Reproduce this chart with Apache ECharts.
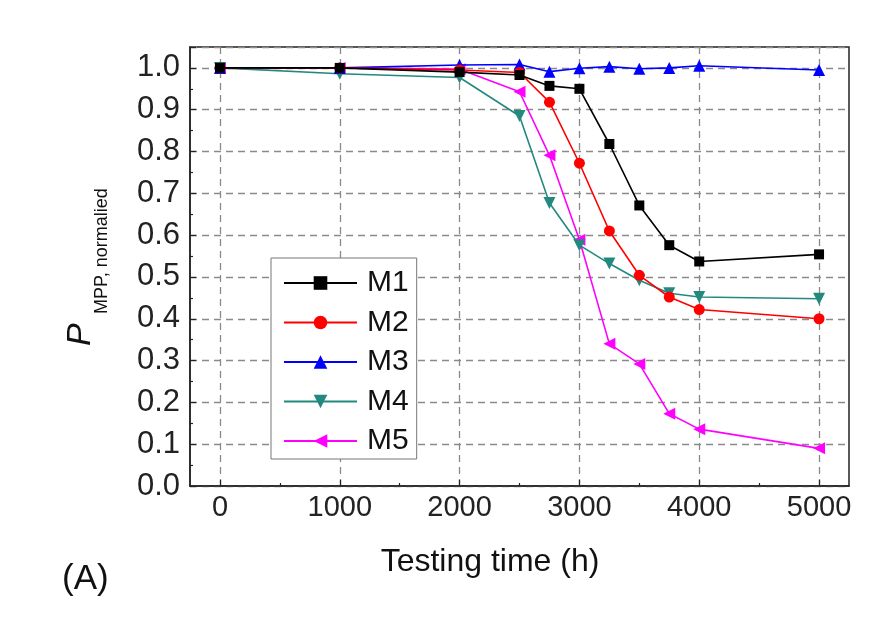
<!DOCTYPE html>
<html>
<head>
<meta charset="utf-8">
<script src="https://cdn.jsdelivr.net/npm/echarts@6/dist/echarts.min.js"></script>
<style>
html,body{margin:0;padding:0;background:#fff;}
#chart{width:870px;height:621px;}
</style>
</head>
<body>
<div id="chart"></div>
<script>
// ---- data ----
const testingTime = [0, 1000, 2000, 2500, 2750, 3000, 3250, 3500, 3750, 4000, 5000];
const seriesNames = ['M1', 'M2', 'M3', 'M4', 'M5'];
const m1 = [1.0, 1.0, 0.99, 0.983, 0.957, 0.950, 0.818, 0.671, 0.576, 0.537, 0.554];
const m2 = [1.0, 1.0, 0.995, 0.989, 0.918, 0.772, 0.610, 0.504, 0.452, 0.422, 0.400];
const m3 = [1.0, 1.0, 1.007, 1.008, 0.991, 0.999, 1.003, 0.998, 1.0, 1.005, 0.995];
const m4 = [1.0, 0.986, 0.977, 0.885, 0.677, 0.576, 0.532, 0.492, 0.461, 0.452, 0.448];
const m5 = [1.0, 1.0, 0.997, 0.943, 0.791, 0.589, 0.340, 0.292, 0.173, 0.136, 0.090];
const xMajorTicks = [0, 1000, 2000, 3000, 4000, 5000];
const xMinorTicks = [500, 1500, 2500, 3500, 4500];
const yTitleMain = 'P';
const yTitleSub = 'MPP, normalied';
const xTitle = 'Testing time (h)';
const panelLabel = '(A)';

// ---- styling ----
const FONT = '"Liberation Sans", Arial, sans-serif';
const colors = ['#000000', '#ff0000', '#0000ff', '#23897f', '#ff00ff'];
const symbols = ['rect', 'circle', 'triangle', 'triangle', 'triangle'];
const symbolRot = [0, 0, 0, 180, 90];
const symbolSizes = [10, 11, 12, 12, 12];
const values = [m1, m2, m3, m4, m5];

const dashStyle = {color: '#8a8a8a', width: 1.3, type: [7, 5]};

const chart = echarts.init(document.getElementById('chart'), null, {renderer: 'canvas'});

const series = seriesNames.map((name, i) => ({
  name: name,
  type: 'line',
  xAxisIndex: 0,
  yAxisIndex: 0,
  data: testingTime.map((t, j) => [t, values[i][j]]),
  symbol: symbols[i],
  symbolSize: symbolSizes[i],
  symbolRotate: symbolRot[i],
  showAllSymbol: true,
  lineStyle: {color: colors[i], width: 1.6},
  itemStyle: {color: colors[i]},
  z: 10 - i
}));

const option = {
  backgroundColor: '#ffffff',
  animation: false,
  grid: {
    left: 190, right: 21, top: 47, bottom: 135,
    show: true, borderColor: '#222', borderWidth: 1.5, backgroundColor: 'transparent'
  },
  legend: {
    orient: 'vertical',
    left: 271, top: 258,
    data: seriesNames,
    itemWidth: 73, itemHeight: 17,
    itemGap: 9.5,
    padding: [10, 8, 3, 12],
    borderColor: '#777', borderWidth: 1,
    backgroundColor: '#fff',
    textStyle: {fontFamily: FONT, fontSize: 30, color: '#111', lineHeight: 30, padding: [0, 0, 0, 5]},
    inactiveColor: '#ccc'
  },
  xAxis: [
    {
      type: 'value', min: -250, max: 5250,
      position: 'bottom',
      axisLine: {show: true, onZero: false, lineStyle: {color: '#222', width: 1.5}},
      axisTick: {show: true, inside: true, length: 6, customValues: xMajorTicks, lineStyle: {color: '#222', width: 1.2}},
      axisLabel: {show: true, customValues: xMajorTicks, fontFamily: FONT, fontSize: 29, color: '#222', margin: 7,
        formatter: v => String(Math.round(v))},
      splitLine: {show: true, lineStyle: dashStyle}
    },
    {
      type: 'value', min: -250, max: 5250,
      position: 'bottom',
      axisLine: {show: false},
      axisTick: {show: true, inside: true, length: 3, customValues: xMinorTicks, lineStyle: {color: '#222', width: 1.2}},
      axisLabel: {show: false},
      splitLine: {show: false}
    }
  ],
  yAxis: {
    type: 'value', min: 0, max: 1.05, interval: 0.1,
    axisLine: {show: true, onZero: false, lineStyle: {color: '#222', width: 1.5}},
    axisTick: {show: true, inside: true, length: 6, lineStyle: {color: '#222', width: 1.2}},
    minorTick: {show: true, splitNumber: 2, length: 3, lineStyle: {color: '#222', width: 1.2}},
    axisLabel: {
      fontFamily: FONT, fontSize: 31, color: '#222', margin: 10,
      formatter: v => (v > 1.001 ? '' : v.toFixed(1))
    },
    splitLine: {show: true, lineStyle: dashStyle}
  },
  graphic: [
    {
      type: 'text', x: 81, y: 346, rotation: Math.PI / 2,
      style: {text: yTitleMain, font: 'italic 34px ' + FONT, fill: '#111', align: 'left', verticalAlign: 'middle'}
    },
    {
      type: 'text', x: 102, y: 314, rotation: Math.PI / 2,
      style: {text: yTitleSub, font: '18px ' + FONT, fill: '#111', align: 'left', verticalAlign: 'middle'}
    },
    {
      type: 'text', x: 490, y: 562,
      style: {text: xTitle, font: '32px ' + FONT, fill: '#111', align: 'center', verticalAlign: 'middle'}
    },
    {
      type: 'text', x: 62, y: 579,
      style: {text: panelLabel, font: '35px ' + FONT, fill: '#111', align: 'left', verticalAlign: 'middle'}
    }
  ],
  series: series
};

chart.setOption(option);
</script>
</body>
</html>
